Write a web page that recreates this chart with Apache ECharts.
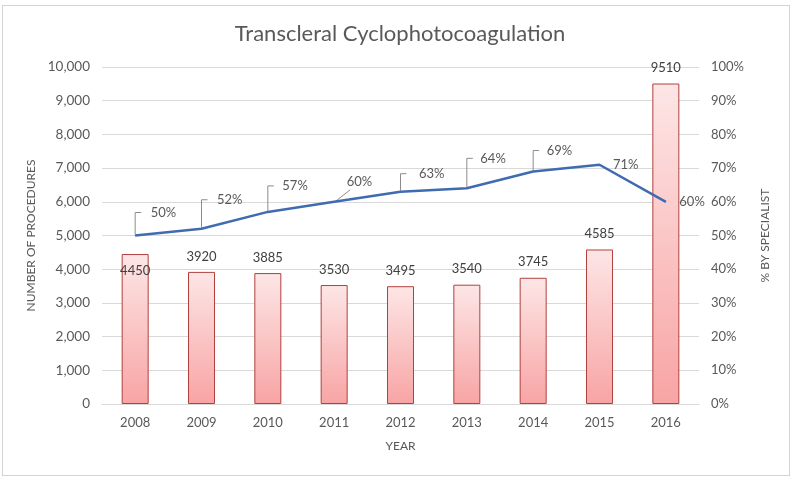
<!DOCTYPE html>
<html>
<head>
<meta charset="utf-8">
<script src="https://cdn.jsdelivr.net/npm/echarts@6/dist/echarts.min.js"></script>
<style>
html,body{margin:0;padding:0;background:#fff;}
#wrap{position:relative;width:800px;height:485px;}
#frame{position:absolute;left:2px;top:5px;width:788px;height:471px;border:1px solid #d4d4d4;box-sizing:border-box;}
#chart{position:absolute;left:0;top:0;width:800px;height:485px;}
</style>
</head>
<body>
<div id="wrap"><div id="frame"></div><div id="chart"></div></div>
<script>
const years = ['2008','2009','2010','2011','2012','2013','2014','2015','2016'];
const procedures = [4450, 3920, 3885, 3530, 3495, 3540, 3745, 4585, 9510];
const specialistPct = [50, 52, 57, 60, 63, 64, 69, 71, 60];
// label offsets (dx from point to label's left edge, dy to label centre)
const labelOffsets = [[15,-23],[15,-29],[14,-26],[12,-20],[18,-18],[13,-30],[13,-21],[13,0],[13,0]];

const font = 'Lato, "Open Sans", sans-serif';
const chart = echarts.init(document.getElementById('chart'), null, {renderer:'canvas'});
chart.setOption({
  backgroundColor: 'transparent',
  animation: false,
  title: {
    text: 'Transcleral Cyclophotocoagulation',
    left: 'center', top: 18,
    textStyle: {fontFamily: font, fontSize: 22, fontWeight: 'normal', color: '#595959'}
  },
  grid: {left: 102, right: 101, top: 67, bottom: 81},
  xAxis: {
    type: 'category', data: years,
    name: 'YEAR', nameLocation: 'middle', nameGap: 36,
    nameTextStyle: {fontFamily: font, fontSize: 12, color: '#595959'},
    axisLine: {lineStyle: {color: '#d9d9d9'}},
    axisTick: {show: false},
    axisLabel: {fontFamily: font, fontSize: 13, color: '#595959', margin: 12}
  },
  yAxis: [{
    type: 'value', min: 0, max: 10000, interval: 1000,
    name: 'NUMBER OF PROCEDURES', nameLocation: 'middle', nameGap: 65, nameRotate: 90,
    nameTextStyle: {fontFamily: font, fontSize: 12, color: '#595959'},
    axisLine: {show: false}, axisTick: {show: false},
    axisLabel: {fontFamily: font, fontSize: 13.5, color: '#595959', margin: 12,
      formatter: v => v.toLocaleString('en-US')},
    splitLine: {lineStyle: {color: '#d9d9d9'}}
  }, {
    type: 'value', min: 0, max: 100, interval: 10,
    name: '% BY SPECIALIST', nameLocation: 'middle', nameGap: 60, nameRotate: 90,
    nameTextStyle: {fontFamily: font, fontSize: 12, color: '#595959'},
    axisLine: {show: false}, axisTick: {show: false},
    axisLabel: {fontFamily: font, fontSize: 13, color: '#595959', margin: 12, formatter: '{value}%'},
    splitLine: {show: false}
  }],
  series: [{
    type: 'bar', yAxisIndex: 0, barWidth: 27,
    data: procedures.map((v, i) => i === 0 ? {value: v, label: {position: 'insideTop', distance: 10}} : v),
    itemStyle: {
      color: new echarts.graphic.LinearGradient(0, 0, 0, 1, [
        {offset: 0, color: '#fde6e6'}, {offset: 1, color: '#f8a4a4'}]),
      borderColor: '#b0413e', borderWidth: 1
    },
    label: {show: true, position: 'top', distance: 9, fontFamily: font, fontSize: 13, color: '#404040'}
  }, {
    type: 'custom', yAxisIndex: 1, silent: true, z: 3,
    data: specialistPct.map((v, i) => [i, v]),
    renderItem: (params, api) => {
      const i = params.dataIndex;
      const off = labelOffsets[i];
      if (off[1] === 0) return null;
      const p = api.coord([api.value(0), api.value(1)]);
      let pts;
      if (i === 3) {
        pts = [[p[0] + 2, p[1] - 1], [p[0] + off[0] + 4, p[1] + off[1] + 8]];
      } else {
        pts = [[p[0], p[1] - 1], [p[0], p[1] + off[1]], [p[0] + 6, p[1] + off[1]]];
      }
      return {type: 'polyline', shape: {points: pts},
        style: {stroke: '#8c8c8c', lineWidth: 1, fill: null}};
    }
  }, {
    type: 'line', yAxisIndex: 1, data: specialistPct, z: 4,
    symbol: 'circle', symbolSize: 1, showSymbol: true,
    lineStyle: {color: '#3f6bb0', width: 2.5},
    itemStyle: {color: '#3f6bb0'},
    label: {show: true, position: 'right', distance: 0, formatter: '{c}%',
      fontFamily: font, fontSize: 13, color: '#595959'},
    labelLayout: p => ({dx: labelOffsets[p.dataIndex][0], dy: labelOffsets[p.dataIndex][1]})
  }]
});
</script>
</body>
</html>
